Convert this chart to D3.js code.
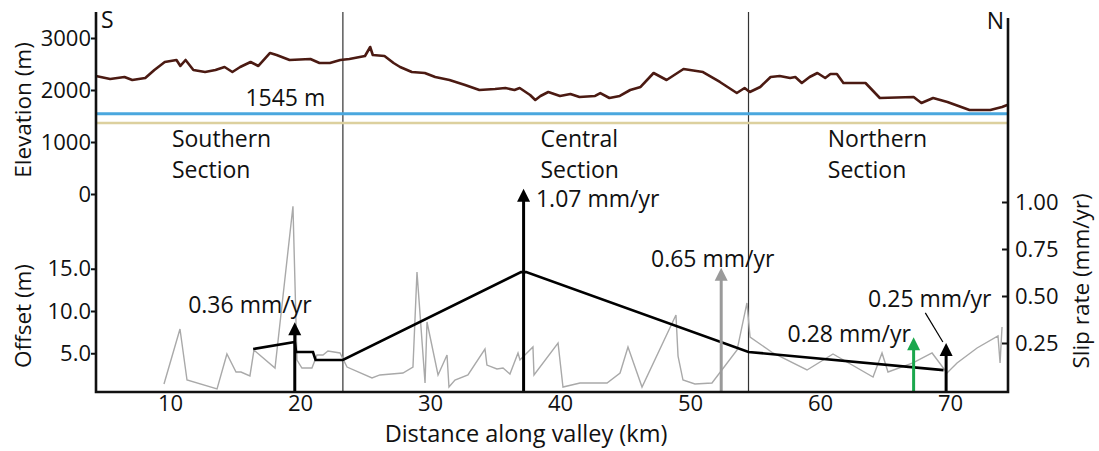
<!DOCTYPE html>
<html>
<head>
<meta charset="utf-8">
<script src="https://cdn.jsdelivr.net/npm/d3@7"></script>
<style>
    body { margin: 0; background: #fff; }
    svg { display: block; font-family: 'Open Sans', sans-serif; }
    .axis path { display: none; }
    .axis line { stroke: #111; stroke-width: 2; }
    .axis text { font-size: 22px; fill: #111; font-family: 'Open Sans', sans-serif; }
    .axis-title { font-size: 22.5px; fill: #111; }
    .x-title { font-size: 23.5px; }
    .label { font-size: 23px; fill: #111; }
</style>
</head>
<body>
<svg id="chart"></svg>
<script>
// elevation profile along the valley
const elevKm = [4.3, 5.4, 6.5, 7.1, 8.1, 8.8, 9.6, 10.5, 10.8, 11.2, 11.8, 12.7, 13.5, 14.2, 14.8, 15.4, 16.2, 16.8,
    17.7, 18.2, 19.2, 20.8, 21.5, 22.3, 23.1, 23.8, 25.0, 25.4, 25.6, 26.5, 27.2, 27.7, 28.6, 29.6, 30.4, 31.5,
    32.7, 33.8, 35.0, 35.8, 36.5, 36.9, 37.7, 38.1, 38.5, 39.1, 40.0, 40.8, 41.5, 42.7, 43.1, 43.8, 44.6, 45.4,
    46.2, 47.2, 48.2, 49.5, 51.0, 52.3, 53.6, 54.2, 54.6, 55.4, 56.2, 56.9, 57.7, 58.1, 58.6, 59.2, 59.8, 60.4,
    60.8, 61.3, 61.8, 63.5, 64.6, 67.2, 67.8, 68.7, 69.8, 71.5, 73.1, 74.0, 74.4]
const elevM = [2269, 2212, 2250, 2192, 2231, 2385, 2538, 2577, 2462, 2577, 2385, 2346, 2385, 2442, 2346, 2442, 2538, 2462,
    2712, 2673, 2577, 2596, 2519, 2519, 2577, 2596, 2654, 2827, 2673, 2654, 2519, 2442, 2346, 2327, 2250, 2192,
    2096, 2000, 2019, 2038, 2000, 2038, 1904, 1808, 1885, 1962, 1885, 1923, 1865, 1885, 1942, 1846, 1885, 2000,
    2058, 2327, 2192, 2404, 2346, 2154, 1942, 2038, 1962, 2058, 2250, 2269, 2231, 2250, 2135, 2250, 2327, 2231,
    2308, 2308, 2135, 2135, 1846, 1865, 1750, 1846, 1769, 1615, 1615, 1673, 1712]

// measured offsets
const offsetKm = [9.54, 10.77, 11.31, 13.62, 14.38, 15.08, 15.46, 16.15, 16.46, 18.08, 19.46, 19.77, 20.15, 20.92,
    21.31, 21.77, 22.15, 23.08, 23.62, 25.54, 26.15, 27.92, 28.69, 29.0, 29.62, 29.77, 30.62, 31.31, 31.46, 31.92,
    32.92, 34.23, 34.38, 35.15, 35.62, 36.15, 36.77, 36.92, 37.92, 38.0, 39.85, 40.23, 41.54, 43.62, 44.62, 45.23,
    46.31, 48.92, 49.08, 49.46, 50.38, 51.69, 53.62, 54.38, 54.62, 56.38, 59.0, 61.0, 64.08, 64.77, 65.23, 67.15,
    68.62, 69.77, 70.54, 72.08, 73.69, 73.85, 74.0]
const offsetM = [1.36, 7.87, 1.83, 0.77, 4.91, 2.78, 2.78, 2.31, 5.38, 3.25, 22.4, 4.2, 3.25, 3.25,
    4.79, 4.79, 5.27, 5.03, 3.37, 2.07, 2.43, 2.66, 3.37, 14.6, 1.48, 8.7, 2.43, 4.79, 1.0, 1.83,
    2.43, 5.5, 3.6, 3.14, 3.25, 2.54, 5.03, 4.2, 5.74, 2.43, 6.21, 1.0, 1.48, 1.48, 2.66, 5.74,
    1.0, 9.53, 4.67, 1.83, 1.36, 1.48, 5.38, 10.95, 6.92, 5.03, 3.02, 4.91, 2.19, 5.03, 2.78, 3.85,
    5.03, 2.66, 3.85, 5.62, 7.04, 3.85, 8.1]

// envelope of offsets
const envKm = [16.4, 19.6, 19.7, 21.0, 21.2, 23.3, 37.0, 37.4, 54.5, 69.5]
const envM = [5.5, 6.33, 5.15, 5.15, 4.2, 4.2, 14.6, 14.6, 5.15, 3.0]

const sectionBreaks = [23.3, 54.5]
const sectionNames = ['Southern', 'Central', 'Northern']
const rateKm = [19.6, 37.2, 52.4, 67.2, 69.7]
const rateVal = [0.36, 1.07, 0.65, 0.28, 0.25]
const rateText = ['0.36 mm/yr', '1.07 mm/yr', '0.65 mm/yr', '0.28 mm/yr', '0.25 mm/yr']
const lakeLevel = 1545
const shoreLevel = 1365

const elevTicks = [0, 1000, 2000, 3000]
const offsetTicks = [5, 10, 15]
const slipTicks = [0.25, 0.5, 0.75, 1.0]
const xTicks = [10, 20, 30, 40, 50, 60, 70]

class ValleyProfile {

    constructor(_config) {
        this.config = {
            parentElement: _config.parentElement,
            containerWidth: _config.containerWidth || 1099,
            containerHeight: _config.containerHeight || 451,
            frame: { left: 96, right: 1008, top: 12, bottom: 392 }
        }
        this.initVis()
    }

    initVis() {
        let vis = this
        let f = vis.config.frame

        vis.svg = d3.select(vis.config.parentElement)
            .attr('width', vis.config.containerWidth)
            .attr('height', vis.config.containerHeight)

        vis.xScale = d3.scaleLinear().domain([4.31, 74.46]).range([f.left, f.right])
        vis.elevScale = d3.scaleLinear().domain([0, 3000]).range([194, 38])
        vis.offsetScale = d3.scaleLinear().domain([0, 15]).range([395.5, 268.75])
        vis.slipScale = d3.scaleLinear().domain([0, 1]).range([390, 202])

        vis.renderVis()
    }

    renderVis() {
        let vis = this
        let f = vis.config.frame
        let x = vis.xScale

        // section dividers
        vis.svg.selectAll('.divider')
            .data(sectionBreaks)
            .join('line')
                .attr('class', 'divider')
                .attr('x1', d => x(d)).attr('x2', d => x(d))
                .attr('y1', f.top).attr('y2', f.bottom)
                .attr('stroke', '#333')
                .attr('stroke-width', 1.2)

        // lake and shoreline levels
        vis.svg.append('line')
            .attr('x1', f.left).attr('x2', f.right)
            .attr('y1', vis.elevScale(shoreLevel)).attr('y2', vis.elevScale(shoreLevel))
            .attr('stroke', '#dcd09e').attr('stroke-width', 2.5)
        vis.svg.append('line')
            .attr('x1', f.left).attr('x2', f.right)
            .attr('y1', vis.elevScale(lakeLevel)).attr('y2', vis.elevScale(lakeLevel))
            .attr('stroke', '#4aa7de').attr('stroke-width', 3)

        let elevLine = d3.line()
            .x(d => x(d[0]))
            .y(d => vis.elevScale(d[1]))
        vis.svg.append('path')
            .datum(d3.zip(elevKm, elevM))
            .attr('d', elevLine)
            .attr('fill', 'none')
            .attr('stroke', '#4b1a12')
            .attr('stroke-width', 2.6)
            .attr('stroke-linejoin', 'round')

        let offLine = d3.line()
            .x(d => x(d[0]))
            .y(d => vis.offsetScale(d[1]))
        vis.svg.append('path')
            .datum(d3.zip(offsetKm, offsetM))
            .attr('d', offLine)
            .attr('fill', 'none')
            .attr('stroke', '#a9a9a9')
            .attr('stroke-width', 1.4)
        vis.svg.append('path')
            .datum(d3.zip(envKm, envM))
            .attr('d', offLine)
            .attr('fill', 'none')
            .attr('stroke', '#000')
            .attr('stroke-width', 2.6)

        // slip rate arrows
        let colors = ['#000', '#000', '#9a9a9a', '#1ba74d', '#000']
        let headLen = 13, headHalf = 6.5
        let rates = d3.zip(rateKm, rateVal, colors)
        vis.svg.selectAll('.rate-shaft')
            .data(rates)
            .join('line')
                .attr('class', 'rate-shaft')
                .attr('x1', d => x(d[0])).attr('x2', d => x(d[0]))
                .attr('y1', f.bottom)
                .attr('y2', d => vis.slipScale(d[1]) + headLen - 1)
                .attr('stroke', d => d[2])
                .attr('stroke-width', 3)
        vis.svg.selectAll('.rate-head')
            .data(rates)
            .join('path')
                .attr('class', 'rate-head')
                .attr('d', d => {
                    let cx = x(d[0]), ty = vis.slipScale(d[1])
                    return `M${cx},${ty}L${cx + headHalf},${ty + headLen}L${cx - headHalf},${ty + headLen}Z`
                })
                .attr('fill', d => d[2])

        // rate labels, placed in km / slip units
        let labelPos = [[11.4, 0.41], [38.15, 0.973], [47.0, 0.654], [57.5, 0.255], [63.7, 0.44]]
        vis.svg.selectAll('.rate-label')
            .data(d3.zip(rateText, labelPos))
            .join('text')
                .attr('class', 'label rate-label')
                .attr('x', d => x(d[1][0]))
                .attr('y', d => vis.slipScale(d[1][1]))
                .text(d => d[0])

        // leader for the 0.25 label
        vis.svg.append('line')
            .attr('x1', x(68.1)).attr('y1', vis.slipScale(0.41))
            .attr('x2', x(69.45)).attr('y2', vis.slipScale(0.255))
            .attr('stroke', '#000').attr('stroke-width', 1.2)

        // section names
        let sectionX = [10.15, 38.5, 60.6]
        sectionNames.forEach((s, i) => {
            let t = vis.svg.append('text')
                .attr('class', 'label')
                .attr('x', x(sectionX[i]))
                .attr('y', vis.elevScale(904))
            t.append('tspan').text(s)
            t.append('tspan').attr('x', x(sectionX[i])).attr('dy', 31).text('Section')
        })

        vis.svg.append('text')
            .attr('class', 'label')
            .attr('x', x(15.8))
            .attr('y', vis.elevScale(1692))
            .text(`${lakeLevel} m`)

        // frame
        vis.svg.append('path')
            .attr('d', `M${f.left},${f.top}V${f.bottom}H${f.right}V${f.top + 6}`)
            .attr('fill', 'none')
            .attr('stroke', '#111')
            .attr('stroke-width', 2.6)

        vis.svg.append('text').attr('class', 'label').attr('x', f.left + 5).attr('y', 28).text('S')
        vis.svg.append('text').attr('class', 'label').attr('x', f.right - 4).attr('y', 29)
            .style('text-anchor', 'end').text('N')

        // axes
        vis.svg.append('g')
            .attr('class', 'axis')
            .attr('transform', `translate(${f.left},0)`)
            .call(d3.axisLeft(vis.elevScale).tickValues(elevTicks).tickSize(5).tickPadding(0)
                .tickFormat(d3.format('d')))
        vis.svg.append('g')
            .attr('class', 'axis')
            .attr('transform', `translate(${f.left},0)`)
            .call(d3.axisLeft(vis.offsetScale).tickValues(offsetTicks).tickSize(5).tickPadding(0)
                .tickFormat(d3.format('.1f')))
        vis.svg.append('g')
            .attr('class', 'axis')
            .attr('transform', `translate(${f.right},0)`)
            .call(d3.axisRight(vis.slipScale).tickValues(slipTicks).tickSizeInner(-6).tickSizeOuter(0)
                .tickPadding(7).tickFormat(d3.format('.2f')))
        vis.svg.append('g')
            .attr('class', 'axis')
            .attr('transform', `translate(0,${f.bottom})`)
            .call(d3.axisBottom(x).tickValues(xTicks).tickSize(0).tickPadding(3))

        // axis titles
        vis.svg.append('text')
            .attr('class', 'axis-title')
            .attr('transform', `translate(31,110) rotate(-90)`)
            .style('text-anchor', 'middle')
            .text('Elevation (m)')
        vis.svg.append('text')
            .attr('class', 'axis-title')
            .attr('transform', `translate(31,316) rotate(-90)`)
            .style('text-anchor', 'middle')
            .text('Offset (m)')
        vis.svg.append('text')
            .attr('class', 'axis-title')
            .attr('transform', `translate(1089,281) rotate(-90)`)
            .style('text-anchor', 'middle')
            .text('Slip rate (mm/yr)')
        vis.svg.append('text')
            .attr('class', 'axis-title x-title')
            .attr('x', 526).attr('y', 442)
            .style('text-anchor', 'middle')
            .text('Distance along valley (km)')
    }
}

new ValleyProfile({ parentElement: '#chart' })
</script>
</body>
</html>
